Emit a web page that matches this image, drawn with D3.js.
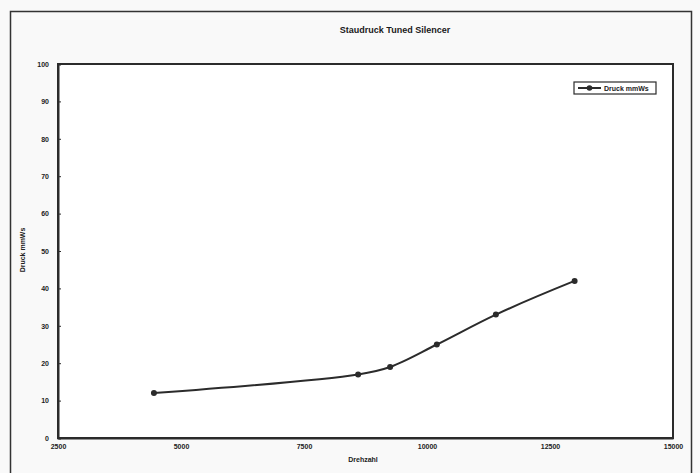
<!DOCTYPE html>
<html lang="de">
<head>
<meta charset="UTF-8">
<title>Staudruck Tuned Silencer</title>
<style>
  body { margin: 0; background: #f9f9f9; }
  svg { display: block; font-family: Arial, "Liberation Sans", sans-serif; }
</style>
</head>
<body>
<div id="chart"></div>
<script src="https://d3js.org/d3.v7.min.js"></script>
<script>
  // values
  const drehzahl = [4450, 8600, 9250, 10200, 11400, 13000];
  const druck = [12, 17, 19, 25, 33, 42];
  const xTicks = [2500, 5000, 7500, 10000, 12500, 15000];
  const yTicks = [0, 10, 20, 30, 40, 50, 60, 70, 80, 90, 100];
  const seriesName = "Druck mmWs";

  const W = 700, H = 473;
  const plot = { left: 58, top: 64, right: 673, bottom: 438 };
  const ink = "#2b2b2b";

  const svg = d3.select("#chart").append("svg")
    .attr("width", W).attr("height", H);

  // outer frame (runs off the bottom of the scan)
  svg.append("path")
    .attr("d", "M10.5,480 V11.5 H691.5 V480")
    .attr("fill", "none").attr("stroke", "#333").attr("stroke-width", 1.5);

  const x = d3.scaleLinear().domain([2500, 15000]).range([plot.left, plot.right]);
  const y = d3.scaleLinear().domain([0, 100]).range([plot.bottom, plot.top]);

  svg.append("rect")
    .attr("x", plot.left).attr("y", plot.top)
    .attr("width", plot.right - plot.left).attr("height", plot.bottom - plot.top)
    .attr("fill", "#ffffff").attr("stroke", ink).attr("stroke-width", 2);

  const yAxis = svg.append("g")
    .attr("transform", `translate(${plot.left},0)`)
    .call(d3.axisLeft(y).tickValues(yTicks).tickSize(-3).tickPadding(9).tickFormat(d3.format("d")));
  const xAxis = svg.append("g")
    .attr("transform", `translate(0,${plot.bottom})`)
    .call(d3.axisBottom(x).tickValues(xTicks).tickSize(0).tickPadding(6).tickFormat(d3.format("d")));

  [xAxis, yAxis].forEach(g => {
    g.select(".domain").attr("stroke", ink).attr("stroke-width", 2);
    g.selectAll(".tick line").attr("stroke", ink);
    g.selectAll("text")
      .attr("fill", "#222").style("font-size", "7px").style("font-weight", "bold");
  });
  yAxis.selectAll("text").attr("dy", "0.32em");

  // series (smoothed line as in the original spreadsheet chart)
  const pts = drehzahl.map((d, i) => [d, druck[i]]);
  const line = d3.line()
    .x(d => x(d[0])).y(d => y(d[1]))
    .curve(d3.curveCatmullRom);

  svg.append("path")
    .datum(pts)
    .attr("d", line)
    .attr("fill", "none").attr("stroke", ink).attr("stroke-width", 2);

  svg.selectAll("circle.pt")
    .data(pts)
    .enter().append("circle")
    .attr("class", "pt")
    .attr("cx", d => x(d[0])).attr("cy", d => y(d[1]))
    .attr("r", 3).attr("fill", ink);

  // titles
  svg.append("text")
    .attr("x", 395).attr("y", 33)
    .attr("text-anchor", "middle")
    .style("font-size", "9px").style("font-weight", "bold").attr("fill", "#1a1a1a")
    .text("Staudruck Tuned Silencer");

  svg.append("text")
    .attr("x", 363).attr("y", 462)
    .attr("text-anchor", "middle")
    .style("font-size", "7px").style("font-weight", "bold").attr("fill", "#222")
    .text("Drehzahl");

  svg.append("text")
    .attr("transform", "translate(25,250) rotate(-90)")
    .attr("text-anchor", "middle")
    .style("font-size", "7px").style("font-weight", "bold").attr("fill", "#222")
    .text(seriesName);

  // legend
  const lg = svg.append("g").attr("transform", "translate(574,82)");
  lg.append("rect")
    .attr("width", 82).attr("height", 12)
    .attr("fill", "#fff").attr("stroke", ink).attr("stroke-width", 1.2);
  lg.append("line")
    .attr("x1", 4).attr("x2", 27).attr("y1", 6).attr("y2", 6)
    .attr("stroke", ink).attr("stroke-width", 2);
  lg.append("circle").attr("cx", 15.5).attr("cy", 6).attr("r", 2.8).attr("fill", ink);
  lg.append("text")
    .attr("x", 30).attr("y", 8.5)
    .style("font-size", "7px").style("font-weight", "bold").attr("fill", "#222")
    .text(seriesName);
</script>
</body>
</html>
